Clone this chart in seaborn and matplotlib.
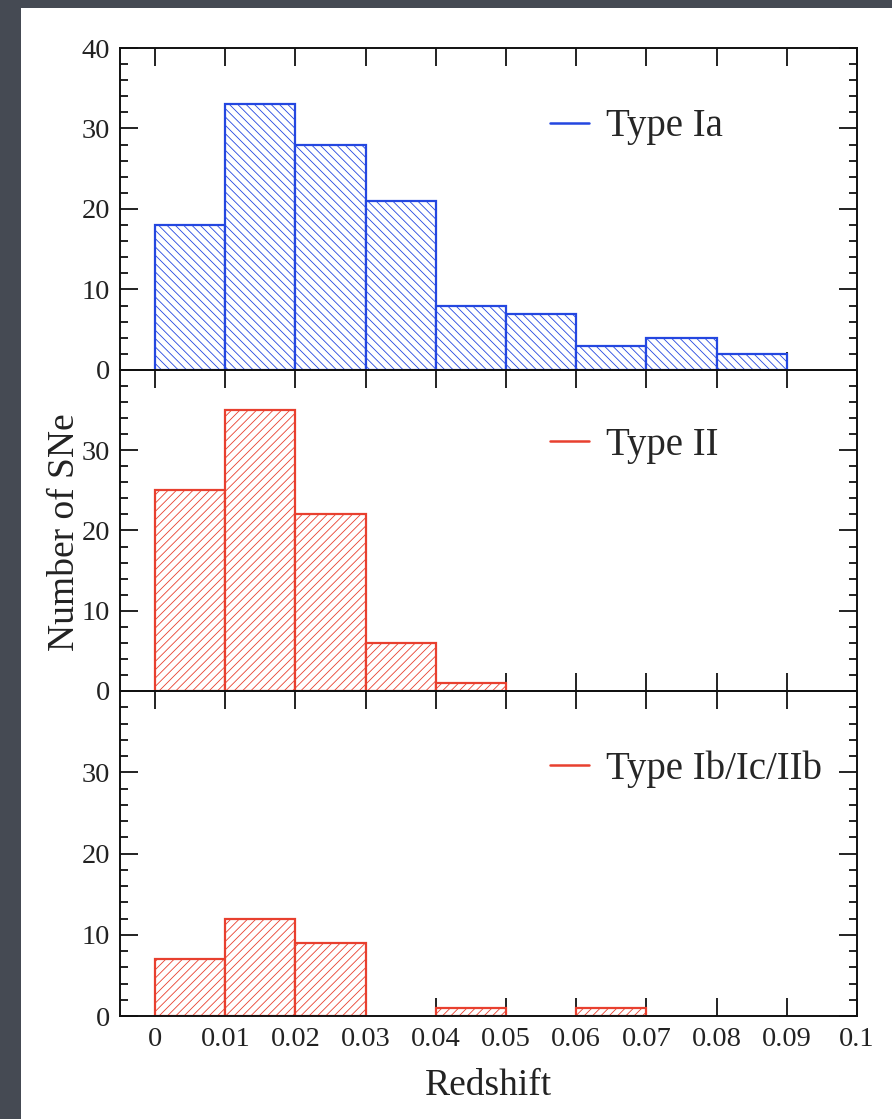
import numpy as np
import pandas as pd
import matplotlib
matplotlib.use("Agg")
import matplotlib.pyplot as plt
from matplotlib.lines import Line2D
from matplotlib.patches import Rectangle
from matplotlib.ticker import MultipleLocator
import seaborn as sns

# redshift bins (left edges), width 0.01
bin_left = [0.00, 0.01, 0.02, 0.03, 0.04, 0.05, 0.06, 0.07, 0.08]
bin_edges = [0.00, 0.01, 0.02, 0.03, 0.04, 0.05, 0.06, 0.07, 0.08, 0.09]

n_ia = [18, 33, 28, 21, 8, 7, 3, 4, 2]
n_ii = [25, 35, 22, 6, 1, 0, 0, 0, 0]
n_ibc = [7, 12, 9, 0, 1, 0, 1, 0, 0]

# label, counts, colour, hatch, legend y
panels = [
    ("Type Ia", n_ia, "#2447e0", "\\\\\\\\", 0.755),
    ("Type II", n_ii, "#e8402f", "////", 0.766),
    ("Type Ib/Ic/IIb", n_ibc, "#e8402f", "////", 0.76),
]

sns.set_style("ticks")
plt.rcParams["font.family"] = ["Liberation Serif", "DejaVu Serif"]
plt.rcParams["hatch.linewidth"] = 0.6

fig = plt.figure(figsize=(8.92, 11.19), dpi=100, facecolor="#454a53")
fig.patches.append(Rectangle((21 / 892, 0), 1 - 21 / 892, 1 - 8 / 1119,
                             transform=fig.transFigure, facecolor="white",
                             edgecolor="none", zorder=-10))

left, width = 120 / 892, 737 / 892
tops = [48, 370, 691]
bots = [370, 691, 1016]

for i, (label, counts, color, hatch, ly) in enumerate(panels):
    y0 = 1 - bots[i] / 1119
    h = (bots[i] - tops[i]) / 1119
    ax = fig.add_axes([left, y0, width, h])
    ax.set_zorder(1)
    df = pd.DataFrame({"z": [b + 0.005 for b in bin_left], "n": counts})
    sns.histplot(data=df, x="z", weights="n", bins=bin_edges, ax=ax,
                 stat="count", color="white", alpha=1, linewidth=1.6,
                 edgecolor=color)
    for p in ax.patches:
        p.set_hatch(hatch)
        p.set_edgecolor(color)
        p.set_facecolor("white")
        if p.get_height() == 0:
            p.set_visible(False)

    ax.set_xlim(-0.005, 0.1)
    ax.set_ylim(0, 40)
    ax.set_xticks([0, 0.01, 0.02, 0.03, 0.04, 0.05, 0.06, 0.07, 0.08, 0.09, 0.1])
    ax.set_yticks([0, 10, 20, 30, 40])
    if i > 0:
        ax.set_yticklabels(["0", "10", "20", "30", ""])
    ax.yaxis.set_minor_locator(MultipleLocator(2))
    ax.tick_params(axis="both", which="both", direction="in", top=True,
                   right=True, width=1.3, colors="#111111")
    ax.tick_params(axis="both", which="major", length=13, labelsize=20.5,
                   labelcolor="#222222")
    ax.tick_params(axis="y", which="major", pad=7)
    ax.tick_params(axis="x", which="major", pad=8)
    ax.tick_params(axis="y", which="minor", length=6)
    ax.tick_params(axis="x", which="minor", bottom=False, top=False)
    for s in ax.spines.values():
        s.set_linewidth(1.4)
        s.set_color("#111111")
    ax.set_ylabel("")
    ax.set_xlabel("")
    if i < 2:
        ax.set_xticklabels([])
    else:
        ax.set_xticklabels(["0", "0.01", "0.02", "0.03", "0.04", "0.05",
                            "0.06", "0.07", "0.08", "0.09", "0.1"])
        ax.set_xlabel("Redshift", fontsize=27, labelpad=12, color="#222222")
    ax.set_facecolor("none")

    ax.legend(handles=[Line2D([], [], color=color, lw=1.8)], labels=[label],
              frameon=False, loc="center left", bbox_to_anchor=(0.583, ly),
              handlelength=1.0, handletextpad=0.46, fontsize=28,
              borderpad=0, borderaxespad=0)

fig.text(65 / 892, 1 - 532 / 1119, "Number of SNe", rotation=90,
         ha="center", va="center", fontsize=27, color="#222222")

fig.savefig("out.png", dpi=100, facecolor=fig.get_facecolor())
